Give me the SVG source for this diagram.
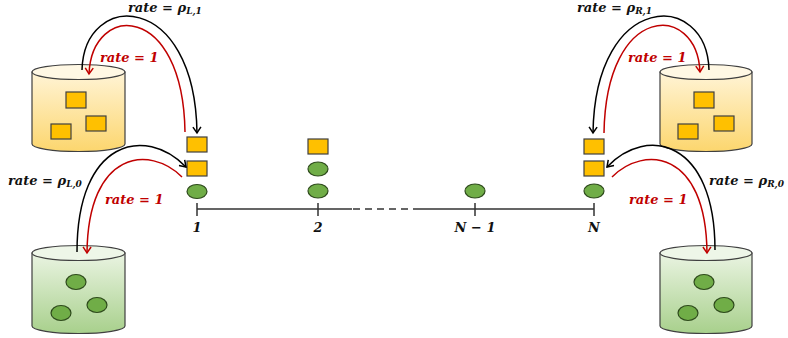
<svg xmlns="http://www.w3.org/2000/svg" width="788" height="338" viewBox="0 0 788 338">
  <style>
    .lbl { font-family: "DejaVu Serif", "Liberation Serif", serif; font-weight: bold; font-style: italic; font-size: 13px; fill: #111; }
    .red { fill: #c00000; }
    .sub { font-size: 9px; }
    .sq { fill: #ffc000; stroke: #404040; stroke-width: 1.2; }
    .ball { fill: #70ad47; stroke: #2e4a1c; stroke-width: 1.2; }
    .axis { stroke: #333; stroke-width: 1.5; fill: none; }
    .cyl { stroke: #404040; stroke-width: 1.2; }
    .arc-k { fill: none; stroke: #000; stroke-width: 1.5; marker-end: url(#headK); }
    .arc-r { fill: none; stroke: #c00000; stroke-width: 1.5; marker-end: url(#headR); }
  </style>
  <defs>
    <linearGradient id="gY" x1="0" y1="0" x2="0" y2="1">
      <stop offset="0" stop-color="#fff4d6"/>
      <stop offset="1" stop-color="#fcd66e"/>
    </linearGradient>
    <linearGradient id="gG" x1="0" y1="0" x2="0" y2="1">
      <stop offset="0" stop-color="#eaf4e2"/>
      <stop offset="1" stop-color="#a8d08c"/>
    </linearGradient>
    <marker id="headK" viewBox="-8 -5 10 10" refX="0" refY="0" markerWidth="10" markerHeight="10" markerUnits="userSpaceOnUse" orient="auto">
      <path d="M-6,-4 L0,0 L-6,4" fill="none" stroke="#000" stroke-width="1.5"/>
    </marker>
    <marker id="headR" viewBox="-8 -5 10 10" refX="0" refY="0" markerWidth="10" markerHeight="10" markerUnits="userSpaceOnUse" orient="auto">
      <path d="M-6,-4 L0,0 L-6,4" fill="none" stroke="#c00000" stroke-width="1.5"/>
    </marker>
  </defs>

  <!-- reservoirs -->
  <g id="reservoir-L1">
    <path class="cyl" fill="url(#gY)" d="M32,72 L32,144 A46.5,7.5 0 0 0 125,144 L125,72 Z"/>
    <ellipse class="cyl" cx="78.5" cy="72" rx="46.5" ry="7.5" fill="#fff8e4"/>
    <rect class="sq" x="66" y="92" width="20" height="16"/>
    <rect class="sq" x="86" y="116" width="20" height="15"/>
    <rect class="sq" x="51" y="124" width="20" height="15"/>
  </g>
  <g id="reservoir-R1">
    <path class="cyl" fill="url(#gY)" d="M660,72 L660,144 A46,7.5 0 0 0 752,144 L752,72 Z"/>
    <ellipse class="cyl" cx="706" cy="72" rx="46" ry="7.5" fill="#fff8e4"/>
    <rect class="sq" x="694" y="92" width="20" height="16"/>
    <rect class="sq" x="714" y="116" width="20" height="15"/>
    <rect class="sq" x="678" y="124" width="20" height="15"/>
  </g>
  <g id="reservoir-L0">
    <path class="cyl" fill="url(#gG)" d="M32,253 L32,326 A46.5,7.5 0 0 0 125,326 L125,253 Z"/>
    <ellipse class="cyl" cx="78.5" cy="253" rx="46.5" ry="7.5" fill="#eef6e8"/>
    <ellipse class="ball" cx="76" cy="282" rx="10" ry="7.5"/>
    <ellipse class="ball" cx="97" cy="305" rx="10" ry="7.5"/>
    <ellipse class="ball" cx="61" cy="313" rx="10" ry="7.5"/>
  </g>
  <g id="reservoir-R0">
    <path class="cyl" fill="url(#gG)" d="M660,253 L660,326 A46,7.5 0 0 0 752,326 L752,253 Z"/>
    <ellipse class="cyl" cx="706" cy="253" rx="46" ry="7.5" fill="#eef6e8"/>
    <ellipse class="ball" cx="704" cy="282" rx="10" ry="7.5"/>
    <ellipse class="ball" cx="724" cy="305" rx="10" ry="7.5"/>
    <ellipse class="ball" cx="688" cy="313" rx="10" ry="7.5"/>
  </g>

  <!-- lattice -->
  <g id="lattice">
    <path class="axis" d="M197,209 H352 M420,209 H594"/>
    <path class="axis" d="M353,209 H420" stroke-dasharray="7 5"/>
    <path class="axis" d="M197,203 V216 M318,203 V216 M475,203 V216 M594,203 V216"/>
    <text class="lbl" x="197" y="232" text-anchor="middle">1</text>
    <text class="lbl" x="318" y="232" text-anchor="middle">2</text>
    <text class="lbl" x="475" y="232" text-anchor="middle">N − 1</text>
    <text class="lbl" x="594" y="232" text-anchor="middle">N</text>
  </g>

  <g id="site-1">
    <rect class="sq" x="187" y="137" width="20" height="15"/>
    <rect class="sq" x="187" y="161" width="20" height="15"/>
    <ellipse class="ball" cx="197" cy="191.5" rx="10" ry="7"/>
  </g>
  <g id="site-2">
    <rect class="sq" x="308" y="139" width="20" height="15"/>
    <ellipse class="ball" cx="318" cy="169" rx="10" ry="7"/>
    <ellipse class="ball" cx="318" cy="191" rx="10" ry="7"/>
  </g>
  <g id="site-N-1">
    <ellipse class="ball" cx="475" cy="191" rx="10" ry="7"/>
  </g>
  <g id="site-N">
    <rect class="sq" x="584" y="139" width="20" height="15"/>
    <rect class="sq" x="584" y="161" width="20" height="15"/>
    <ellipse class="ball" cx="594" cy="191" rx="10" ry="7"/>
  </g>

  <!-- exchange rates -->
  <g id="connectors">
    <path class="arc-k" d="M82,70 C84,-10 195,-10 197,133"/>
    <path class="arc-r" d="M185,132 C183,2 92,2 89,74"/>
    <path class="arc-k" d="M709,70 C707,-10 595,-10 593,133"/>
    <path class="arc-r" d="M604,133 C606,2 697,2 700,72"/>
    <path class="arc-k" d="M77,252 C77,140 145,125 186,167"/>
    <path class="arc-r" d="M182,177 C150,145 88,150 87,253"/>
    <path class="arc-k" d="M715,250 C715,140 647,125 607,167"/>
    <path class="arc-r" d="M612,177 C644,145 706,150 707,253"/>
  </g>

  <g id="labels">
    <text class="lbl" x="128" y="12">rate = ρ<tspan class="sub" dy="2">L,1</tspan></text>
    <text class="lbl red" x="100" y="62">rate = 1</text>
    <text class="lbl" x="8" y="185">rate = ρ<tspan class="sub" dy="2">L,0</tspan></text>
    <text class="lbl red" x="105" y="204">rate = 1</text>
    <text class="lbl" x="577" y="12">rate = ρ<tspan class="sub" dy="2">R,1</tspan></text>
    <text class="lbl red" x="628" y="62">rate = 1</text>
    <text class="lbl" x="709" y="185">rate = ρ<tspan class="sub" dy="2">R,0</tspan></text>
    <text class="lbl red" x="629" y="204">rate = 1</text>
  </g>
</svg>
